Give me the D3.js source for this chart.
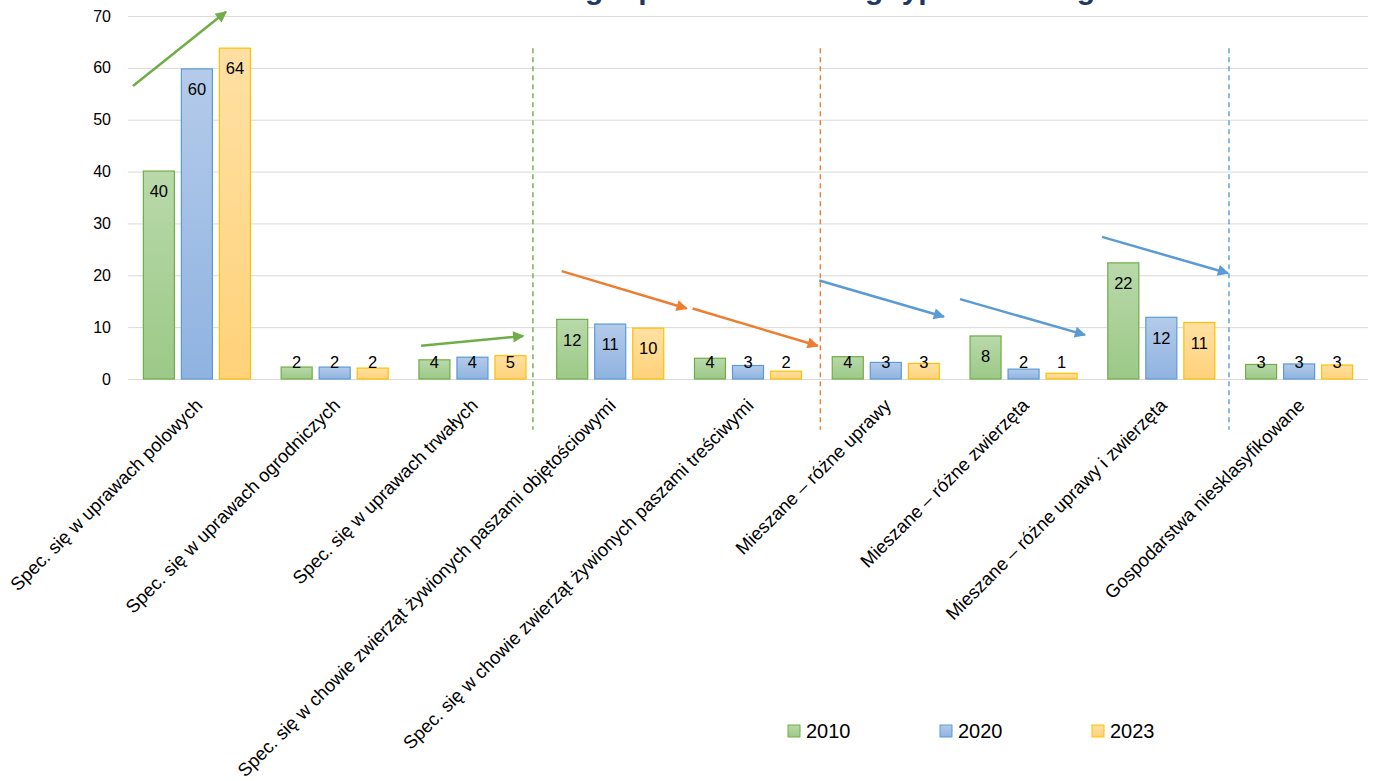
<!DOCTYPE html>
<html><head><meta charset="utf-8">
<script src="https://cdn.jsdelivr.net/npm/d3@7"></script>
<style>
html,body{margin:0;padding:0;background:#fff;}
svg{display:block;}
text{font-family:"Liberation Sans","Noto Sans",sans-serif;}
</style></head>
<body>
<svg id="c" width="1375" height="781"></svg>
<script>
// ---- data ----
const categories = [
  "Spec. się w uprawach polowych",
  "Spec. się w uprawach ogrodniczych",
  "Spec. się w uprawach trwałych",
  "Spec. się w chowie zwierząt żywionych paszami objętościowymi",
  "Spec. się w chowie zwierząt żywionych paszami treściwymi",
  "Mieszane – różne uprawy",
  "Mieszane – różne zwierzęta",
  "Mieszane – różne uprawy i zwierzęta",
  "Gospodarstwa niesklasyfikowane"
];
const seriesNames = ["2010", "2020", "2023"];
const values2010 = [40.1, 2.3, 3.7, 11.5, 4.0, 4.3, 8.3, 22.4, 2.8];
const values2020 = [59.8, 2.3, 4.2, 10.6, 2.6, 3.2, 1.9, 11.9, 2.9];
const values2023 = [63.8, 2.1, 4.5, 9.8, 1.5, 3.0, 1.1, 10.9, 2.7];
const yTicks = [0, 10, 20, 30, 40, 50, 60, 70];
const titleText = "Struktura gospodarstw według typu rolniczego";
// annotations in (category-position, value) units
const separators = [
  {u: 2.939, color: "green"},
  {u: 5.025, color: "orange"},
  {u: 7.991, color: "blue"}
];
const sepTop = 63.8, sepBottom = -9.8;
const arrows = [
  {u1: 0.036, v1: 56.5, u2: 0.711, v2: 70.8, color: "green"},
  {u1: 2.127, v1: 6.4,  u2: 2.869, v2: 8.3,  color: "green"},
  {u1: 3.148, v1: 20.8, u2: 4.055, v2: 13.6, color: "orange"},
  {u1: 4.098, v1: 13.6, u2: 5.006, v2: 6.4,  color: "orange"},
  {u1: 5.017, v1: 19.0, u2: 5.922, v2: 12.0, color: "blue"},
  {u1: 6.039, v1: 15.4, u2: 6.946, v2: 8.5,  color: "blue"},
  {u1: 7.069, v1: 27.4, u2: 7.984, v2: 20.4, color: "blue"}
];

// ---- styles ----
const palette = {
  "2010": {top: "#b9d9aa", bottom: "#9bc987", stroke: "#70ad47"},
  "2020": {top: "#b4cbea", bottom: "#8fb3e1", stroke: "#5b9bd5"},
  "2023": {top: "#ffe0a3", bottom: "#ffd27a", stroke: "#ffc000"}
};
const annColor = {green: "#70ad47", orange: "#ed7d31", blue: "#5b9bd5"};

const svg = d3.select("#c");
const pLeft = 128, pRight = 1368, pTop = 16, pBottom = 379;

const x = d3.scaleBand().domain(categories).range([pLeft, pRight]).paddingInner(0.223).paddingOuter(0.1115);
const xs = d3.scaleBand().domain(seriesNames).range([0, x.bandwidth()]).paddingInner(0.184);
const y = d3.scaleLinear().domain([0, 70]).range([pBottom, pTop]);
const u = d3.scaleLinear().domain([0, categories.length]).range([pLeft, pRight]);

const defs = svg.append("defs");
seriesNames.forEach((s, i) => {
  const g = defs.append("linearGradient").attr("id", "g" + i).attr("x1", 0).attr("y1", 0).attr("x2", 0).attr("y2", 1);
  g.append("stop").attr("offset", "0%").attr("stop-color", palette[s].top);
  g.append("stop").attr("offset", "100%").attr("stop-color", palette[s].bottom);
});
Object.keys(annColor).forEach(k => {
  defs.append("marker").attr("id", "m-" + k).attr("viewBox", "0 0 10 10")
    .attr("refX", 9).attr("refY", 5).attr("markerWidth", 5).attr("markerHeight", 4.5)
    .attr("orient", "auto").attr("markerUnits", "strokeWidth")
    .append("path").attr("d", "M0,0 L10,5 L0,10 Z").attr("fill", annColor[k]);
});

// title (mostly cut off at top, as in the reference)
const title = svg.append("text").text(titleText)
  .attr("y", -1).attr("font-weight", "bold").attr("font-size", 30).attr("fill", "#1f3864");
title.attr("x", 0);
const gx = title.node().getStartPositionOfChar(10).x;
title.attr("x", 585 - gx);

// gridlines
const yAxis = d3.axisLeft(y).tickValues(yTicks).tickSize(-(pRight - pLeft)).tickPadding(17);
const ga = svg.append("g").attr("transform", `translate(${pLeft},0)`).call(yAxis);
ga.select(".domain").remove();
ga.selectAll(".tick line").attr("stroke", "#d9d9d9").attr("stroke-width", 1);
ga.selectAll(".tick text").attr("font-size", 16).attr("fill", "#000").attr("font-family", "Liberation Sans");

// bars
const series = [values2010, values2020, values2023];
seriesNames.forEach((s, si) => {
  const grp = svg.append("g");
  grp.selectAll("rect").data(series[si]).join("rect")
    .attr("x", (d, i) => x(categories[i]) + xs(s))
    .attr("y", d => y(d))
    .attr("width", xs.bandwidth())
    .attr("height", d => y(0) - y(d))
    .attr("fill", `url(#g${si})`)
    .attr("stroke", palette[s].stroke).attr("stroke-width", 1.2);
  grp.selectAll("text").data(series[si]).join("text")
    .attr("x", (d, i) => x(categories[i]) + xs(s) + xs.bandwidth() / 2)
    .attr("y", d => Math.min(y(d) + 20.5, y(0) - 17))
    .attr("dy", "0.35em").attr("text-anchor", "middle")
    .attr("font-size", 16.5).attr("fill", "#000")
    .text(d => Math.round(d));
});

// category labels
svg.append("g").selectAll("text").data(categories).join("text")
  .attr("transform", d => `translate(${x(d) + x.bandwidth() / 2 + 2},${pBottom + 23}) rotate(-45)`)
  .attr("text-anchor", "end").attr("dy", "0.35em")
  .attr("font-size", 18.5).attr("fill", "#000")
  .text(d => d);

// separators
svg.append("g").selectAll("line").data(separators).join("line")
  .attr("x1", d => u(d.u)).attr("x2", d => u(d.u))
  .attr("y1", y(sepTop)).attr("y2", y(sepBottom))
  .attr("stroke", d => annColor[d.color]).attr("stroke-width", 1.4)
  .attr("stroke-dasharray", "5,4");

// arrows
svg.append("g").selectAll("line").data(arrows).join("line")
  .attr("x1", d => u(d.u1)).attr("y1", d => y(d.v1))
  .attr("x2", d => u(d.u2)).attr("y2", d => y(d.v2))
  .attr("stroke", d => annColor[d.color]).attr("stroke-width", 2.5)
  .attr("marker-end", d => `url(#m-${d.color})`);

// legend
const legX = [788, 940, 1092];
const lg = svg.append("g");
seriesNames.forEach((s, i) => {
  lg.append("rect").attr("x", legX[i]).attr("y", 725).attr("width", 12).attr("height", 12)
    .attr("fill", `url(#g${i})`).attr("stroke", palette[s].stroke).attr("stroke-width", 1);
  lg.append("text").attr("x", legX[i] + 18).attr("y", 731).attr("dy", "0.35em")
    .attr("font-size", 20).attr("fill", "#000").text(s);
});
</script>
</body></html>
